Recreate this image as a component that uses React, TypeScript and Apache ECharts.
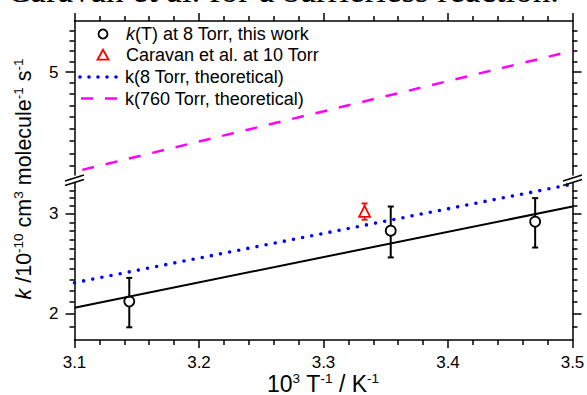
import React, { useEffect, useRef } from 'react';
import * as echarts from 'echarts';

// ---------- data ----------
const X_MIN = 3.1;
const X_MAX = 3.5;
const X_STEP = 0.1;
const Y_UPPER_RANGE = [4.13, 5.5];
const Y_LOWER_RANGE = [1.8, 3.4];
const Y_UPPER_MAJOR = [5];
const Y_UPPER_MINOR = [4.2, 4.3, 4.4, 4.5, 4.6, 4.7, 4.8, 4.9, 5.1, 5.2, 5.3, 5.4];
const Y_LOWER_MAJOR = [2, 3];
const Y_LOWER_MINOR = [1.9, 2.1, 2.2, 2.3, 2.4, 2.5, 2.6, 2.7, 2.8, 2.9, 3.1, 3.2, 3.3];

const invT = [3.144, 3.354, 3.47];
const kMeasured = [2.105, 2.803, 2.908];
const kMeasuredErr = [0.21, 0.288, 0.29];
const caravanInvT = [3.333];
const caravanK = [3.03];
const caravanErr = [0.1];
const lineInvT = [3.1, 3.5];
const kFit = [2.052, 3.091];
const k8Theory = [2.27, 3.385];
const k760Theory = [4.155, 5.203];

const LEGEND_NAMES = [
  'k(T) at 8 Torr, this work',
  'Caravan et al. at 10 Torr',
  'k(8 Torr, theoretical)',
  'k(760 Torr, theoretical)',
];

const FONT = '"Liberation Sans", Arial, sans-serif';
const SERIF = '"Liberation Serif", "Times New Roman", serif';
const AXIS_W = 1.5;

function tickAxes(gridIndex: number, range: number[], majors: number[], minors: number[]) {
  const lmin = Math.log10(range[0]);
  const lmax = Math.log10(range[1]);
  const base = (position: string) => ({
    type: 'value', gridIndex, position, min: lmin, max: lmax,
    splitLine: { show: false },
    axisLine: { show: false, onZero: false },
  });
  const fmt = (v: number) => {
    const m = majors.find((t) => Math.abs(Math.log10(t) - v) < 1e-6);
    return m === undefined ? '' : String(m);
  };
  return [
    {
      type: 'log', logBase: 10, gridIndex, position: 'left', min: range[0], max: range[1],
      axisLine: { show: true, onZero: false, lineStyle: { color: '#000', width: AXIS_W } },
      axisTick: { show: false }, axisLabel: { show: false }, splitLine: { show: false },
      minorTick: { show: false }, minorSplitLine: { show: false },
    },
    {
      ...base('left'),
      axisTick: { show: true, inside: false, length: 5, customValues: minors.map(Math.log10), lineStyle: { color: '#000', width: AXIS_W } },
      axisLabel: { show: false },
    },
    {
      ...base('left'),
      axisTick: { show: true, inside: false, length: 9, customValues: majors.map(Math.log10), lineStyle: { color: '#000', width: AXIS_W } },
      axisLabel: {
        show: true, customValues: majors.map(Math.log10), formatter: fmt, margin: 16,
        color: '#000', fontSize: 17, fontFamily: FONT,
      },
    },
    {
      ...base('right'),
      axisLine: { show: true, onZero: false, lineStyle: { color: '#000', width: AXIS_W } },
      axisTick: { show: true, inside: false, length: 5, customValues: minors.map(Math.log10), lineStyle: { color: '#000', width: AXIS_W } },
      axisLabel: { show: false },
    },
    {
      ...base('right'),
      axisTick: { show: true, inside: false, length: 9, customValues: majors.map(Math.log10), lineStyle: { color: '#000', width: AXIS_W } },
      axisLabel: { show: false },
    },
  ];
}

function xAxis(gridIndex: number, position: string, showLabel: boolean) {
  return {
    type: 'value', gridIndex, position, min: X_MIN, max: X_MAX, interval: X_STEP,
    axisLine: { show: true, onZero: false, lineStyle: { color: '#000', width: AXIS_W } },
    axisTick: { show: true, inside: false, length: 8, lineStyle: { color: '#000', width: AXIS_W } },
    minorTick: { show: true, splitNumber: 5, length: 5, lineStyle: { color: '#000', width: AXIS_W } },
    splitLine: { show: false }, minorSplitLine: { show: false },
    axisLabel: {
      show: showLabel, margin: 14, color: '#000', fontSize: 17, fontFamily: FONT,
      showMinLabel: true, showMaxLabel: true,
      formatter: (v: number) => v.toFixed(1),
    },
  };
}

const errorBar = (color: string, capHalf: number, width: number) => (_p: any, api: any) => {
  const x = api.value(0);
  const y = api.value(1);
  const e = api.value(2);
  const top = api.coord([x, y + e]);
  const bot = api.coord([x, y - e]);
  const style = { stroke: color, lineWidth: width, fill: 'none' };
  return {
    type: 'group',
    children: [
      { type: 'line', shape: { x1: top[0], y1: top[1], x2: bot[0], y2: bot[1] }, style },
      { type: 'line', shape: { x1: top[0] - capHalf, y1: top[1], x2: top[0] + capHalf, y2: top[1] }, style },
      { type: 'line', shape: { x1: bot[0] - capHalf, y1: bot[1], x2: bot[0] + capHalf, y2: bot[1] }, style },
    ],
  };
};

export default function App() {
  const ref = useRef<HTMLDivElement>(null);
  useEffect(() => {
    if (!ref.current) return;
    const chart = echarts.init(ref.current, undefined, { renderer: 'svg' });
    const yUpper = tickAxes(0, Y_UPPER_RANGE, Y_UPPER_MAJOR, Y_UPPER_MINOR);
    const yLower = tickAxes(1, Y_LOWER_RANGE, Y_LOWER_MAJOR, Y_LOWER_MINOR);
    const legendY = [34, 55, 77, 98.5];
    const LF = 18;
    const textStyle = (extra: any) => ({ fontSize: LF, fontFamily: FONT, fill: '#000', verticalAlign: 'middle', align: 'left', ...extra });
    const supRich = (size: number) => ({
      i: { fontStyle: 'italic', fontSize: size, fontFamily: FONT, fill: '#000', lineHeight: 25 },
      s: { fontSize: 13.5, fontFamily: FONT, fill: '#000', lineHeight: 13.5, verticalAlign: 'top' },
    });
    const option: any = {
      animation: false,
      backgroundColor: '#fff',
      grid: [
        { left: 74.5, width: 498, top: 21, height: 154, outerBoundsMode: 'none', containLabel: false },
        { left: 74.5, width: 498, top: 183, height: 157, outerBoundsMode: 'none', containLabel: false },
      ],
      xAxis: [xAxis(0, 'top', false), xAxis(1, 'bottom', true)],
      yAxis: [...yUpper, ...yLower],
      series: [
        {
          type: 'line', xAxisIndex: 1, yAxisIndex: 5, symbol: 'none', silent: true,
          data: lineInvT.map((x, i) => [x, kFit[i]]),
          lineStyle: { color: '#000', width: 2 },
        },
        {
          type: 'line', name: LEGEND_NAMES[2], xAxisIndex: 1, yAxisIndex: 5, symbol: 'none', silent: true,
          data: lineInvT.map((x, i) => [x, k8Theory[i]]),
          lineStyle: { color: '#0000ff', width: 3.6, type: [0, 9.3], cap: 'round' },
        },
        {
          type: 'line', name: LEGEND_NAMES[3], xAxisIndex: 0, yAxisIndex: 0, symbol: 'none', silent: true,
          data: lineInvT.map((x, i) => [x, k760Theory[i]]),
          lineStyle: { color: '#ff00ff', width: 2.5, type: [12, 12], dashOffset: 16 },
        },
        {
          type: 'custom', xAxisIndex: 1, yAxisIndex: 5, silent: true,
          encode: { x: 0, y: 1 },
          data: invT.map((x, i) => [x, kMeasured[i], kMeasuredErr[i]]),
          renderItem: errorBar('#000', 3, 2),
        },
        {
          type: 'custom', xAxisIndex: 1, yAxisIndex: 5, silent: true,
          encode: { x: 0, y: 1 },
          data: caravanInvT.map((x, i) => [x, caravanK[i], caravanErr[i]]),
          renderItem: errorBar('#ff0000', 3, 1.8),
        },
        {
          type: 'scatter', name: LEGEND_NAMES[0], xAxisIndex: 1, yAxisIndex: 5, silent: true,
          symbol: 'circle', symbolSize: 10,
          data: invT.map((x, i) => [x, kMeasured[i]]),
          itemStyle: { color: '#fff', borderColor: '#000', borderWidth: 1.8, opacity: 1 },
        },
        {
          type: 'scatter', name: LEGEND_NAMES[1], xAxisIndex: 1, yAxisIndex: 5, silent: true,
          symbol: 'triangle', symbolSize: [11, 11],
          data: caravanInvT.map((x, i) => [x, caravanK[i]]),
          itemStyle: { color: '#fff', borderColor: '#ff0000', borderWidth: 1.8, opacity: 1 },
        },
      ],
      graphic: [
        // cropped caption text above the chart
        { type: 'text', x: 7, y: -10, silent: true, style: { text: 'Caravan et al. for a barrierless reaction.', fontFamily: SERIF, fontSize: 35, fill: '#000', verticalAlign: 'middle', align: 'left' } },
        // legend
        { type: 'circle', silent: true, z: 50, shape: { cx: 103, cy: legendY[0], r: 4.5 }, style: { fill: '#fff', stroke: '#000', lineWidth: 1.8 } },
        { type: 'polygon', silent: true, z: 50, shape: { points: [[103, legendY[1] - 5.3], [97.5, legendY[1] + 4.7], [108.5, legendY[1] + 4.7]] }, style: { fill: '#fff', stroke: '#ff0000', lineWidth: 1.8 } },
        { type: 'line', silent: true, z: 50, shape: { x1: 80, y1: legendY[2], x2: 123, y2: legendY[2] }, style: { stroke: '#0000ff', lineWidth: 3.6, lineDash: [0, 9], lineCap: 'round' } },
        { type: 'line', silent: true, z: 50, shape: { x1: 81, y1: legendY[3], x2: 117, y2: legendY[3] }, style: { stroke: '#ff00ff', lineWidth: 2.5, lineDash: [12, 12] } },
        { type: 'text', silent: true, z: 50, x: 126, y: legendY[0], style: textStyle({ text: '{i|k}(T) at 8 Torr, this work', rich: { i: { fontStyle: 'italic', fontSize: LF, fontFamily: FONT, fill: '#000' } } }) },
        { type: 'text', silent: true, z: 50, x: 126, y: legendY[1], style: textStyle({ text: LEGEND_NAMES[1] }) },
        { type: 'text', silent: true, z: 50, x: 125, y: legendY[2], style: textStyle({ text: LEGEND_NAMES[2] }) },
        { type: 'text', silent: true, z: 50, x: 125, y: legendY[3], style: textStyle({ text: LEGEND_NAMES[3] }) },
        // axis break marks
        { type: 'line', silent: true, z: 60, shape: { x1: 65, y1: 181, x2: 84, y2: 175 }, style: { stroke: '#000', lineWidth: 1.5 } },
        { type: 'line', silent: true, z: 60, shape: { x1: 65, y1: 185.5, x2: 84, y2: 179.5 }, style: { stroke: '#000', lineWidth: 1.5 } },
        { type: 'line', silent: true, z: 60, shape: { x1: 563, y1: 181, x2: 582, y2: 175 }, style: { stroke: '#000', lineWidth: 1.5 } },
        { type: 'line', silent: true, z: 60, shape: { x1: 563, y1: 185.5, x2: 582, y2: 179.5 }, style: { stroke: '#000', lineWidth: 1.5 } },
        // axis titles
        {
          type: 'text', silent: true, x: 24, y: 179, rotation: Math.PI / 2,
          style: {
            text: '{i|k} /10{s|-10} cm{s|3} molecule{s|-1} s{s|-1}',
            rich: supRich(21.5), fontSize: 21.5, lineHeight: 25, fontFamily: FONT, fill: '#000', align: 'center', verticalAlign: 'middle',
          },
        },
        {
          type: 'text', silent: true, x: 323, y: 384,
          style: {
            text: '10{s|3} T{s|-1} / K{s|-1}',
            rich: supRich(23), fontSize: 23, lineHeight: 25, fontFamily: FONT, fill: '#000', align: 'center', verticalAlign: 'middle',
          },
        },
      ],
    };
    chart.setOption(option);
    return () => chart.dispose();
  }, []);
  return <div ref={ref} style={{ position: 'absolute', left: 0, top: 0, width: 587, height: 395 }} />;
}
